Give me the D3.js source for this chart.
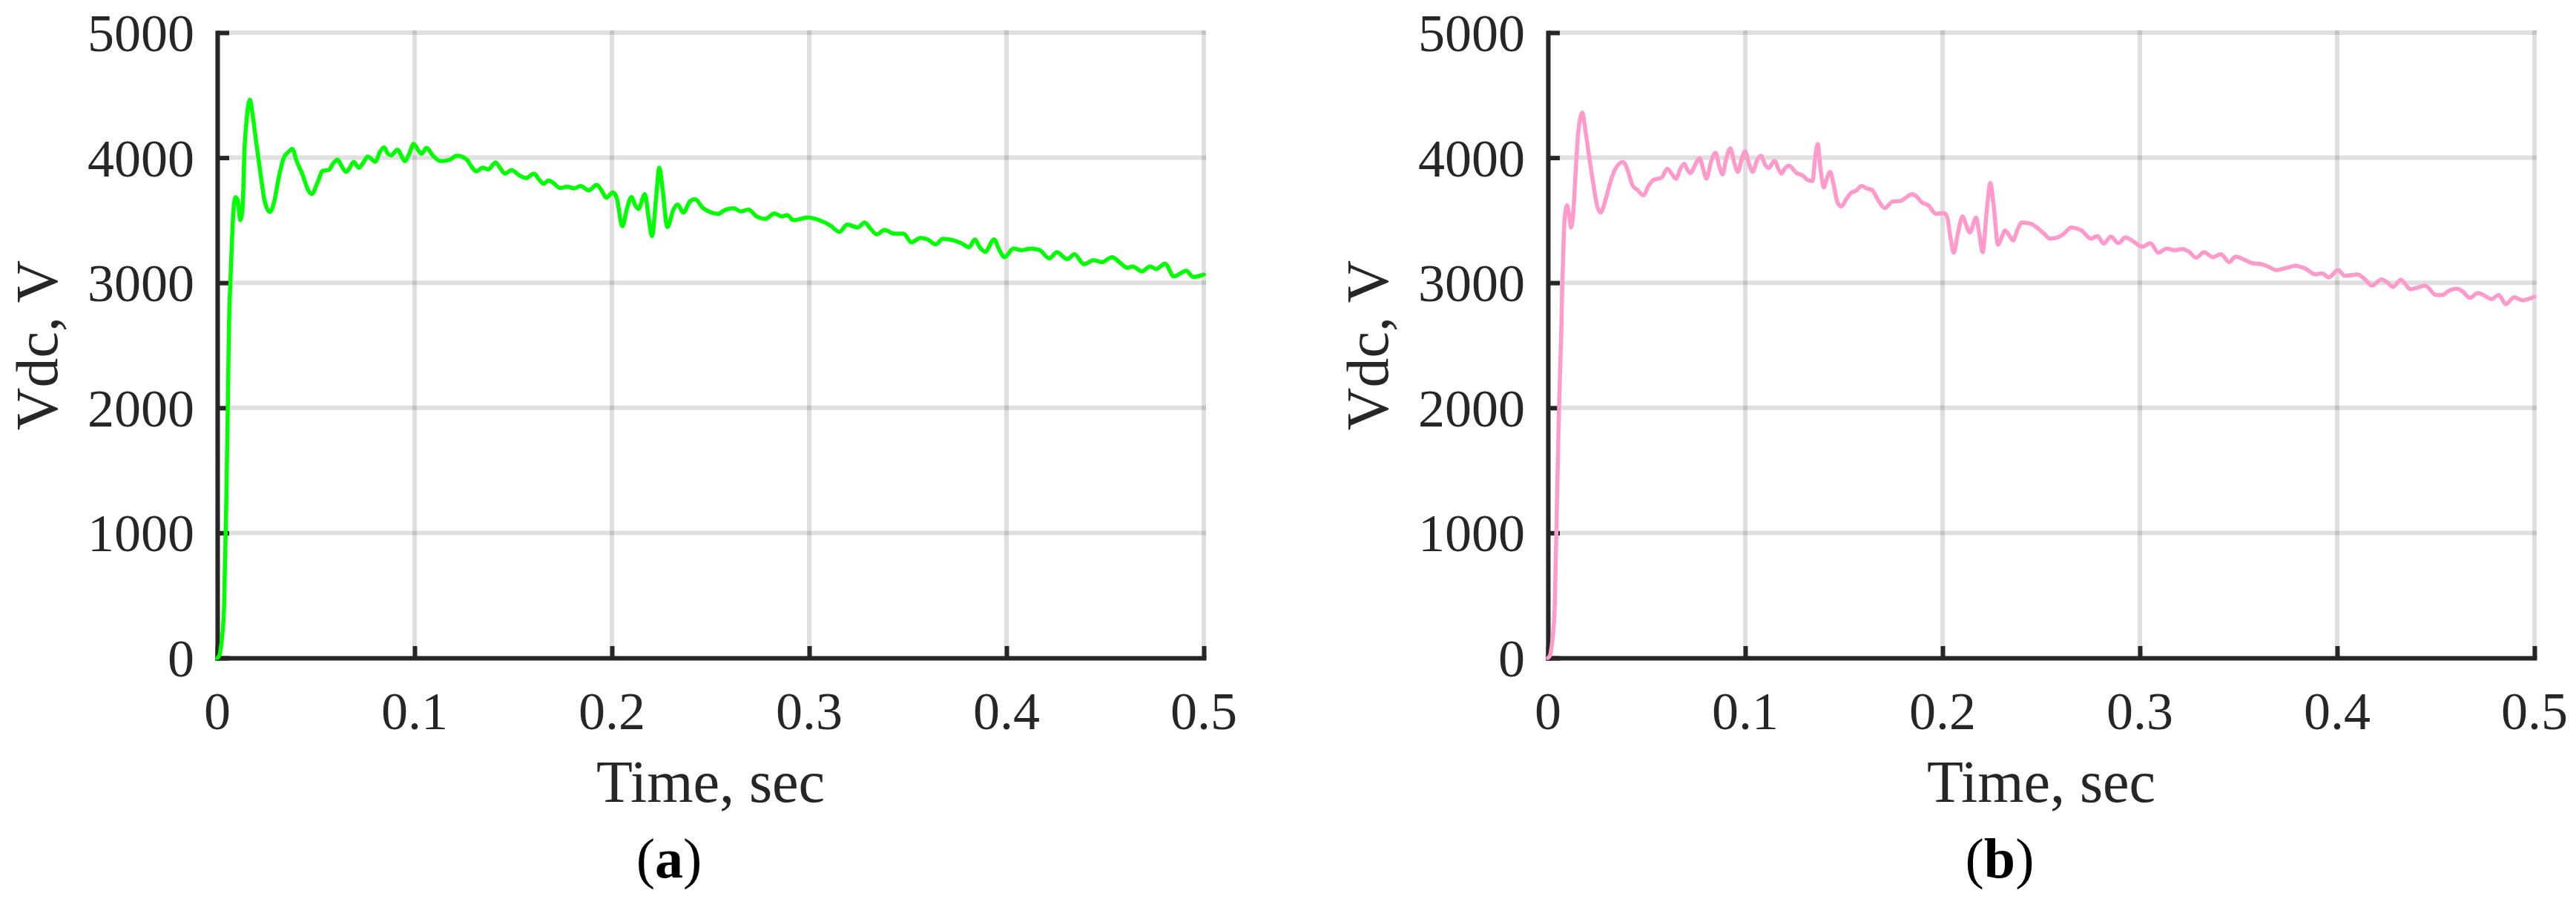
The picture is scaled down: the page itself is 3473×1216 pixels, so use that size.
<!DOCTYPE html>
<html><head><meta charset="utf-8">
<script src="https://cdn.jsdelivr.net/npm/d3@7"></script>
<style>html,body{margin:0;padding:0;background:#fff;} svg{display:block;}</style>
</head><body>
<svg id="chart" width="3473" height="1216"></svg>
<script>
const xTicks = [0, 0.1, 0.2, 0.3, 0.4, 0.5];
const yTicks = [0, 1000, 2000, 3000, 4000, 5000];
const xTickLabels = ["0", "0.1", "0.2", "0.3", "0.4", "0.5"];
const yTickLabels = ["0", "1000", "2000", "3000", "4000", "5000"];
const xLabel = "Time, sec";
const yLabel = "Vdc, V";
const panelLetters = ["a", "b"];

const timeA = [0,0.001,0.002,0.0034,0.0045,0.0053,0.0059,0.0066,0.0071,0.0081,0.0092,0.0103,0.0116,0.0128,0.0138,0.0149,0.0165,0.0178,0.0198,0.0222,0.0239,0.0266,0.0287,0.0311,0.0336,0.0360,0.0380,0.0401,0.0434,0.0458,0.0479,0.0507,0.0536,0.0564,0.0588,0.0609,0.0629,0.0653,0.0670,0.0691,0.0718,0.0738,0.0762,0.0784,0.0800,0.0824,0.0845,0.0865,0.0881,0.0914,0.0933,0.0951,0.0971,0.0995,0.1020,0.1036,0.1060,0.1093,0.1133,0.1174,0.1215,0.1264,0.1285,0.1312,0.1345,0.1374,0.1410,0.1434,0.1459,0.1491,0.1532,0.1565,0.1605,0.1630,0.1654,0.1679,0.1703,0.1736,0.1776,0.1809,0.1841,0.1882,0.1923,0.1947,0.1972,0.2004,0.2024,0.2053,0.2077,0.2099,0.2118,0.2134,0.2167,0.2186,0.2203,0.2224,0.2240,0.2256,0.2281,0.2313,0.2333,0.2362,0.2395,0.2422,0.2460,0.2489,0.2538,0.2578,0.2619,0.2652,0.2692,0.2733,0.2779,0.2823,0.2860,0.2888,0.2920,0.2993,0.3050,0.3107,0.3153,0.3192,0.3246,0.3281,0.3311,0.3343,0.3381,0.3433,0.3478,0.3518,0.3563,0.3600,0.3641,0.3677,0.3734,0.3775,0.3810,0.3840,0.3864,0.3892,0.3937,0.3962,0.3990,0.4035,0.4076,0.4116,0.4165,0.4217,0.4255,0.4308,0.4344,0.4393,0.4442,0.4483,0.4536,0.4572,0.4613,0.4640,0.4686,0.4727,0.4759,0.4803,0.4849,0.4911,0.4946,0.5000];
const vdcA = [0,20,110,400,1200,2000,2650,3000,3205,3561,3685,3660,3501,3600,4075,4312,4464,4351,4114,3837,3660,3566,3640,3837,3996,4045,4071,3976,3857,3748,3709,3798,3897,3901,3956,3986,3936,3887,3916,3966,3920,3956,4009,3986,3966,4045,4084,4031,4019,4065,4015,3972,4025,4110,4055,4031,4079,4015,3972,3982,4015,3986,3936,3891,3920,3907,3962,3916,3873,3901,3857,3837,3873,3827,3792,3818,3798,3758,3768,3754,3774,3739,3782,3739,3680,3723,3680,3452,3600,3685,3620,3590,3709,3521,3373,3679,3920,3758,3446,3590,3626,3561,3650,3669,3600,3572,3551,3586,3596,3570,3586,3531,3511,3555,3531,3541,3501,3521,3501,3458,3406,3466,3442,3481,3432,3387,3422,3392,3392,3323,3359,3347,3307,3351,3339,3313,3284,3347,3284,3248,3347,3268,3205,3274,3260,3272,3264,3195,3244,3189,3228,3149,3181,3165,3205,3165,3120,3130,3092,3130,3110,3153,3051,3096,3047,3066];

const timeB = [0,0.001,0.002,0.0034,0.0045,0.0056,0.0068,0.0072,0.0076,0.0084,0.0097,0.0107,0.0117,0.0128,0.0140,0.0153,0.0174,0.0190,0.0210,0.0231,0.0250,0.0267,0.0291,0.0315,0.0340,0.0361,0.0381,0.0400,0.0429,0.0454,0.0483,0.0511,0.0535,0.0576,0.0605,0.0625,0.0649,0.0670,0.0690,0.0706,0.0722,0.0747,0.0768,0.0787,0.0803,0.0828,0.0849,0.0869,0.0885,0.0904,0.0924,0.0945,0.0963,0.0983,0.0999,0.1018,0.1038,0.1059,0.1080,0.1100,0.1118,0.1149,0.1166,0.1183,0.1202,0.1223,0.1259,0.1292,0.1316,0.1341,0.1354,0.1367,0.1381,0.1398,0.1414,0.1430,0.1446,0.1468,0.1487,0.1512,0.1536,0.1560,0.1590,0.1617,0.1642,0.1674,0.1707,0.1747,0.1788,0.1813,0.1845,0.1869,0.1894,0.1927,0.1967,0.2008,0.2024,0.2040,0.2057,0.2076,0.2101,0.2122,0.2138,0.2170,0.2187,0.2203,0.2223,0.2242,0.2260,0.2281,0.2297,0.2317,0.2336,0.2358,0.2379,0.2402,0.2447,0.2491,0.2516,0.2544,0.2590,0.2622,0.2651,0.2704,0.2752,0.2785,0.2817,0.2853,0.2891,0.2928,0.2964,0.3013,0.3053,0.3094,0.3135,0.3175,0.3216,0.3249,0.3286,0.3325,0.3371,0.3411,0.3452,0.3485,0.3534,0.3574,0.3615,0.3656,0.3688,0.3745,0.3786,0.3835,0.3892,0.3924,0.3957,0.4005,0.4038,0.4103,0.4144,0.4176,0.4225,0.4258,0.4282,0.4323,0.4372,0.4412,0.4445,0.4502,0.4534,0.4567,0.4608,0.4637,0.4673,0.4713,0.4746,0.4783,0.4819,0.4855,0.4897,0.4941,0.4974,0.5000];
const vdcB = [0,20,110,400,1200,2000,2650,2950,3165,3501,3620,3541,3442,3561,3877,4193,4361,4213,3996,3778,3610,3561,3660,3798,3907,3952,3966,3917,3778,3742,3699,3778,3822,3841,3911,3877,3831,3907,3952,3907,3877,3946,3996,3907,3833,3976,4039,3926,3867,3996,4075,3956,3887,3996,4051,3956,3887,3976,4015,3946,3917,3976,3917,3873,3917,3936,3877,3857,3822,3814,3996,4110,3917,3762,3837,3887,3798,3640,3610,3669,3719,3735,3774,3754,3742,3660,3596,3650,3655,3679,3709,3689,3644,3620,3551,3557,3521,3363,3240,3383,3531,3452,3402,3521,3383,3244,3561,3798,3600,3304,3353,3418,3383,3339,3422,3482,3472,3425,3390,3353,3367,3402,3442,3418,3353,3373,3313,3369,3317,3363,3333,3288,3317,3240,3274,3260,3270,3248,3201,3244,3205,3228,3165,3209,3181,3155,3149,3126,3102,3120,3136,3116,3066,3076,3043,3102,3056,3066,3023,2977,3027,2997,2967,3023,2948,2964,2977,2902,2902,2938,2952,2928,2879,2918,2898,2869,2902,2829,2884,2859,2873,2888];

const seriesList = [
  {t: timeA, v: vdcA, color: "#00ff00", letter: panelLetters[0]},
  {t: timeB, v: vdcB, color: "#ff9aca", letter: panelLetters[1]}
];

const svg = d3.select("#chart");
svg.append("rect").attr("width", 3473).attr("height", 1216).attr("fill", "#fff");

const plotLefts = [293, 2087];
const plotW = 1330, plotTop = 44, plotBottom = 887;
const ink = "#262626";
const fontFam = "'Liberation Serif','Times New Roman',serif";

seriesList.forEach((s, i) => {
  const x0 = plotLefts[i];
  const x = d3.scaleLinear().domain([0, 0.5]).range([x0, x0 + plotW]);
  const y = d3.scaleLinear().domain([0, 5000]).range([plotBottom, plotTop]);
  const g = svg.append("g");

  // grid (semi-transparent, darker where lines cross)
  g.append("g").selectAll("line").data(xTicks).join("line")
    .attr("x1", d => x(d)).attr("x2", d => x(d))
    .attr("y1", y(0)).attr("y2", y(5000) - 3)
    .attr("stroke", ink).attr("stroke-opacity", 0.15).attr("stroke-width", 6);
  g.append("g").selectAll("line").data(yTicks).join("line")
    .attr("x1", x(0)).attr("x2", x(0.5) + 3)
    .attr("y1", d => y(d)).attr("y2", d => y(d))
    .attr("stroke", ink).attr("stroke-opacity", 0.15).attr("stroke-width", 6);

  // axes
  const xa = g.append("g").attr("transform", `translate(0,${plotBottom})`)
    .call(d3.axisBottom(x).tickValues(xTicks).tickSize(-16).tickSizeOuter(0).tickFormat(""));
  const ya = g.append("g").attr("transform", `translate(${x0},0)`)
    .call(d3.axisLeft(y).tickValues(yTicks).tickSize(-16).tickSizeOuter(0).tickFormat(""));
  [xa, ya].forEach(a => {
    a.select(".domain").attr("stroke", ink).attr("stroke-width", 6).attr("stroke-linecap", "square");
    a.selectAll(".tick line").attr("stroke", ink).attr("stroke-width", 6);
  });

  // tick labels
  g.append("g").selectAll("text").data(xTicks).join("text")
    .attr("x", d => x(d)).attr("y", plotBottom + 96)
    .attr("text-anchor", "middle")
    .attr("font-family", fontFam).attr("font-size", 72).attr("fill", ink)
    .text((d, k) => xTickLabels[k]);
  g.append("g").selectAll("text").data(yTicks).join("text")
    .attr("x", x0 - 31).attr("y", d => y(d) + 25)
    .attr("text-anchor", "end")
    .attr("font-family", fontFam).attr("font-size", 72).attr("fill", ink)
    .text((d, k) => yTickLabels[k]);

  // axis titles
  g.append("text")
    .attr("x", x0 + plotW / 2).attr("y", 1081)
    .attr("text-anchor", "middle")
    .attr("font-family", fontFam).attr("font-size", 80).attr("fill", ink)
    .text(xLabel);
  g.append("text")
    .attr("transform", `translate(${x0 - 216},${(plotTop + plotBottom) / 2}) rotate(-90)`)
    .attr("text-anchor", "middle")
    .attr("font-family", fontFam).attr("font-size", 80).attr("fill", ink)
    .text(yLabel);

  // panel label
  const pl = g.append("text")
    .attr("x", x0 + plotW / 2 - 56).attr("y", 1183)
    .attr("text-anchor", "middle")
    .attr("font-family", fontFam).attr("font-size", 76).attr("fill", "#000");
  pl.append("tspan").text("(");
  pl.append("tspan").attr("font-weight", "bold").text(s.letter);
  pl.append("tspan").text(")");

  // data line
  const pts = s.t.map((t, k) => [t, s.v[k]]);
  g.append("path").datum(pts)
    .attr("d", d3.line().x(d => x(d[0])).y(d => y(d[1])).curve(d3.curveMonotoneX))
    .attr("fill", "none").attr("stroke", s.color).attr("stroke-width", 5.5)
    .attr("stroke-linejoin", "round").attr("stroke-linecap", "round");
});
</script>
</body></html>
